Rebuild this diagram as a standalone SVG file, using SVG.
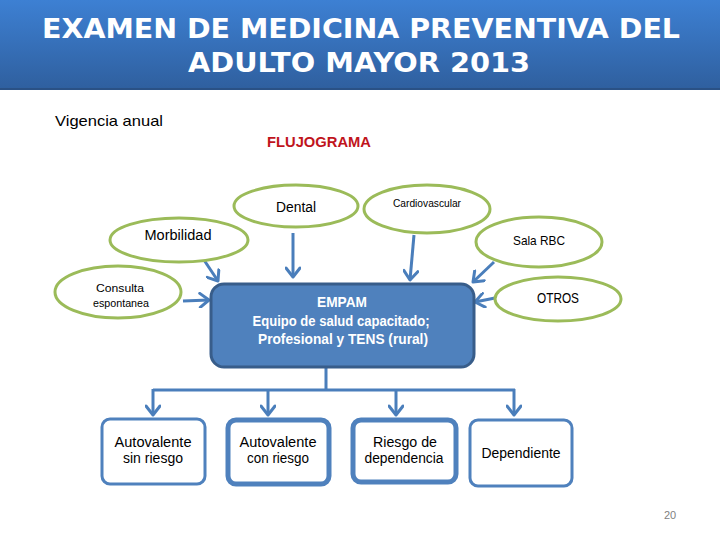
<svg xmlns="http://www.w3.org/2000/svg" width="720" height="540" viewBox="0 0 720 540">
<defs>
<linearGradient id="tg" x1="0" y1="0" x2="0" y2="1">
<stop offset="0" stop-color="#3d80d3"/>
<stop offset="1" stop-color="#2f5f9e"/>
</linearGradient>
<marker id="ah" markerUnits="userSpaceOnUse" markerWidth="16" markerHeight="16" refX="12" refY="8" orient="auto">
<path d="M3,1 L12,8 L3,15" fill="none" stroke="#4a7ebb" stroke-width="3" stroke-linecap="round" stroke-linejoin="round"/>
</marker>
</defs>
<style>
.t{font-family:"Liberation Sans",Arial,sans-serif;fill:#000;text-anchor:middle}
.ell{fill:#fff;stroke:#9bbb59;stroke-width:3}
.ob{fill:#fff;stroke:#4f81bd;stroke-width:3}
.obk{fill:#fff;stroke:#4f81bd;stroke-width:5}
.c{fill:none;stroke:#4a7ebb;stroke-width:3}
.w{font-family:"Liberation Sans",Arial,sans-serif;fill:#fff;font-weight:bold;text-anchor:middle;font-size:14px}
</style>
<rect width="720" height="540" fill="#fff"/>
<g id="title">
<rect x="0" y="0" width="720" height="90" fill="url(#tg)"/>
<rect x="0" y="88" width="720" height="2" fill="#2a5185"/>
<text x="361" y="38" font-family="'DejaVu Sans',Verdana,sans-serif" font-weight="bold" font-size="27" fill="#fff" text-anchor="middle" textLength="638" lengthAdjust="spacingAndGlyphs">EXAMEN DE MEDICINA PREVENTIVA DEL</text>
<text x="359" y="72" font-family="'DejaVu Sans',Verdana,sans-serif" font-weight="bold" font-size="27" fill="#fff" text-anchor="middle" textLength="342" lengthAdjust="spacingAndGlyphs">ADULTO MAYOR 2013</text>
</g>
<text x="55" y="126" font-family="'Liberation Sans',Arial,sans-serif" font-size="15" fill="#000" textLength="108" lengthAdjust="spacingAndGlyphs">Vigencia anual</text>
<text x="267" y="147" font-family="'Liberation Sans',Arial,sans-serif" font-size="14" font-weight="bold" fill="#c0141c" textLength="104" lengthAdjust="spacingAndGlyphs">FLUJOGRAMA</text>
<g id="connectors">
<line class="c" x1="293" y1="233" x2="293" y2="277" marker-end="url(#ah)"/>
<line class="c" x1="204" y1="260" x2="218" y2="281" marker-end="url(#ah)"/>
<line class="c" x1="183" y1="301" x2="209" y2="300" marker-end="url(#ah)"/>
<line class="c" x1="414" y1="235" x2="410" y2="280" marker-end="url(#ah)"/>
<line class="c" x1="494" y1="262" x2="473" y2="282" marker-end="url(#ah)"/>
<line class="c" x1="495" y1="298" x2="475" y2="302" marker-end="url(#ah)"/>
<path class="c" d="M326,368 V390 M153,390 H515"/>
<line class="c" x1="153" y1="389" x2="153" y2="415" marker-end="url(#ah)"/>
<line class="c" x1="268" y1="390" x2="268" y2="415" marker-end="url(#ah)"/>
<line class="c" x1="396" y1="390" x2="396" y2="415" marker-end="url(#ah)"/>
<line class="c" x1="514" y1="389" x2="514" y2="415" marker-end="url(#ah)"/>
</g>
<g id="dental">
<ellipse class="ell" cx="296" cy="206" rx="62" ry="21"/>
<text class="t" x="296" y="212" font-size="14" textLength="40" lengthAdjust="spacingAndGlyphs">Dental</text>
</g>
<g id="cardiovascular">
<ellipse class="ell" cx="427" cy="209" rx="63" ry="24"/>
<text class="t" x="427" y="207" font-size="10" textLength="68" lengthAdjust="spacingAndGlyphs">Cardiovascular</text>
</g>
<g id="morbilidad">
<ellipse class="ell" cx="179" cy="240" rx="69" ry="22"/>
<text class="t" x="178" y="240" font-size="14" textLength="67" lengthAdjust="spacingAndGlyphs">Morbilidad</text>
</g>
<g id="salarbc">
<ellipse class="ell" cx="539" cy="242" rx="63" ry="25"/>
<text class="t" x="539" y="245" font-size="13" textLength="52" lengthAdjust="spacingAndGlyphs">Sala RBC</text>
</g>
<g id="consulta">
<ellipse class="ell" cx="118" cy="292" rx="63" ry="26"/>
<text class="t" x="120" y="292" font-size="11" textLength="48" lengthAdjust="spacingAndGlyphs">Consulta</text>
<text class="t" x="121" y="307" font-size="11" textLength="56" lengthAdjust="spacingAndGlyphs">espontanea</text>
</g>
<g id="otros">
<ellipse class="ell" cx="558" cy="299" rx="63" ry="22"/>
<text class="t" x="558" y="303" font-size="14" textLength="42" lengthAdjust="spacingAndGlyphs">OTROS</text>
</g>
<g id="empam">
<rect x="211" y="284" width="263" height="83" rx="13" fill="#4f81bd" stroke="#385d8a" stroke-width="3"/>
<text class="w" x="342" y="307" textLength="50" lengthAdjust="spacingAndGlyphs">EMPAM</text>
<text class="w" x="341" y="326" textLength="177" lengthAdjust="spacingAndGlyphs">Equipo de salud  capacitado;</text>
<text class="w" x="343" y="344" textLength="170" lengthAdjust="spacingAndGlyphs">Profesional  y  TENS  (rural)</text>
</g>
<g id="autovalente-sin">
<rect class="ob" x="102" y="419" width="103" height="65" rx="8"/>
<text class="t" x="153" y="447" font-size="14" textLength="77" lengthAdjust="spacingAndGlyphs">Autovalente</text>
<text class="t" x="153" y="463" font-size="14" textLength="60" lengthAdjust="spacingAndGlyphs">sin riesgo</text>
</g>
<g id="autovalente-con">
<rect class="obk" x="228" y="420" width="101" height="64" rx="8"/>
<text class="t" x="278" y="447" font-size="14" textLength="77" lengthAdjust="spacingAndGlyphs">Autovalente</text>
<text class="t" x="278" y="463" font-size="14" textLength="62" lengthAdjust="spacingAndGlyphs">con riesgo</text>
</g>
<g id="riesgo">
<rect class="obk" x="353" y="420" width="103" height="62" rx="8"/>
<text class="t" x="405" y="447" font-size="14" textLength="64" lengthAdjust="spacingAndGlyphs">Riesgo de</text>
<text class="t" x="404" y="463" font-size="14" textLength="79" lengthAdjust="spacingAndGlyphs">dependencia</text>
</g>
<g id="dependiente">
<rect class="ob" x="470" y="420" width="102" height="66" rx="8"/>
<text class="t" x="521" y="458" font-size="14" textLength="79" lengthAdjust="spacingAndGlyphs">Dependiente</text>
</g>
<text x="670" y="519" font-family="'Liberation Sans',Arial,sans-serif" font-size="11" fill="#7f7f7f" text-anchor="middle">20</text>
</svg>
